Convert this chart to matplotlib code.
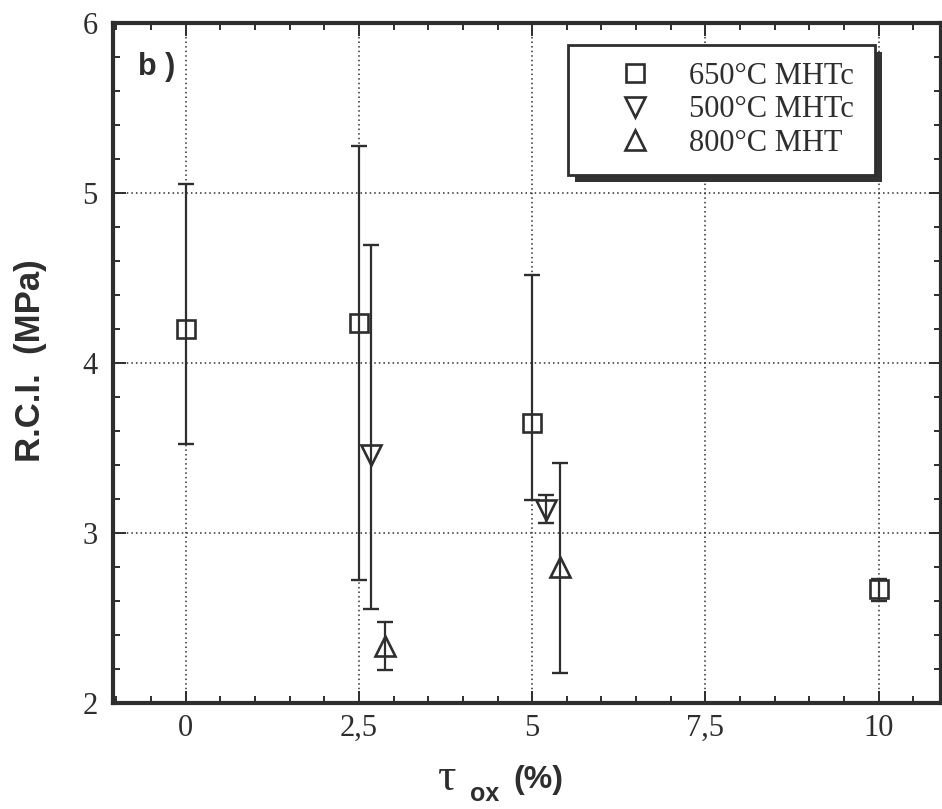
import matplotlib
matplotlib.use("Agg")
import matplotlib.pyplot as plt
from matplotlib.patches import Rectangle
from matplotlib.transforms import IdentityTransform
from matplotlib.ticker import MultipleLocator, FixedLocator, FixedFormatter

# ---- data ----
sq_x = [0, 2.5, 5, 10]
sq_y = [4.20, 4.236, 3.648, 2.67]
sq_lo = [3.52, 2.722, 3.195, 2.60]
sq_hi = [5.05, 5.275, 4.515, 2.73]

tdn_x = [2.675, 5.20]
tdn_y = [3.46, 3.136]
tdn_lo = [2.552, 3.055]
tdn_hi = [4.69, 3.22]

tup_x = [2.877, 5.40]
tup_y = [2.333, 2.80]
tup_lo = [2.192, 2.173]
tup_hi = [2.476, 3.408]

labels = ["650°C MHTc", "500°C MHTc", "800°C MHT"]
xtick_vals = [0, 2.5, 5, 7.5, 10]
xtick_labels = ["0", "2,5", "5", "7,5", "10"]
ytick_vals = [2, 3, 4, 5, 6]

C = "#2e2e2e"
SERIF = ["Liberation Serif", "DejaVu Serif"]
SANS = ["Liberation Sans", "DejaVu Sans"]

W, H = 942, 809
fig = plt.figure(figsize=(W / 100, H / 100), dpi=100)
ax_l, ax_r, ax_t, ax_b = 113, 941, 22.7, 702.7
ax = fig.add_axes([ax_l / W, 1 - ax_b / H, (ax_r - ax_l) / W, (ax_b - ax_t) / H])

def errs(y, lo, hi):
    return [[v - l for v, l in zip(y, lo)], [h - v for v, h in zip(y, hi)]]

ekw = dict(fmt="none", ecolor=C, elinewidth=1.6, capsize=5.5, capthick=1.7, zorder=3)
ax.errorbar(sq_x, sq_y, yerr=errs(sq_y, sq_lo, sq_hi), **ekw)
ax.errorbar(tdn_x, tdn_y, yerr=errs(tdn_y, tdn_lo, tdn_hi), **ekw)
ax.errorbar(tup_x, tup_y, yerr=errs(tup_y, tup_lo, tup_hi), **ekw)

mkw = dict(linestyle="none", markerfacecolor="none", markeredgecolor=C,
           markeredgewidth=1.9, zorder=4)
ax.plot(sq_x, sq_y, marker="s", markersize=13, label=labels[0], **mkw)
ax.plot(tdn_x, tdn_y, marker="v", markersize=14, label=labels[1], **mkw)
ax.plot(tup_x, tup_y, marker="^", markersize=14, label=labels[2], **mkw)

ax.set_xlim(-1.05, 10.9)
ax.set_ylim(2, 6)
ax.xaxis.set_major_locator(FixedLocator(xtick_vals))
ax.xaxis.set_major_formatter(FixedFormatter(xtick_labels))
ax.xaxis.set_minor_locator(MultipleLocator(0.5))
ax.yaxis.set_major_locator(FixedLocator(ytick_vals))
ax.yaxis.set_minor_locator(MultipleLocator(0.2))

ax.tick_params(which="both", direction="in", top=True, right=True, color=C, width=1.4)
ax.tick_params(which="major", length=9)
ax.tick_params(which="minor", length=5)
ax.tick_params(axis="x", which="major", pad=8, labelsize=22, labelcolor=C)
ax.tick_params(axis="y", which="major", pad=11, labelsize=22, labelcolor=C)
for lab in ax.get_xticklabels() + ax.get_yticklabels():
    lab.set_fontfamily(SERIF)

for s in ax.spines.values():
    s.set_linewidth(3)
    s.set_color(C)

ax.grid(True, which="major", color=C, linestyle=(0, (1, 2)), linewidth=1.1)
ax.set_axisbelow(True)

# legend
leg = ax.legend(loc="upper left", bbox_to_anchor=(0.5495, 0.9672, 0.3708, 0), mode="expand",
                borderaxespad=0, prop={"family": SERIF, "size": 22}, labelcolor=C,
                frameon=True, fancybox=False, edgecolor=C, framealpha=1,
                handlelength=3.3, handletextpad=0.1, labelspacing=0.15, borderpad=0.55,
                numpoints=1)
leg.get_frame().set_linewidth(2)
leg.set_zorder(6)

fig.canvas.draw()
bb = leg.get_window_extent()
ax.add_artist(Rectangle((bb.x0 + 7, bb.y0 - 7), bb.width, bb.height, transform=IdentityTransform(),
                        facecolor="#333333", edgecolor="none", zorder=5.5, clip_on=False))

# panel label
ax.text((138 - ax_l) / (ax_r - ax_l), (ax_b - 75) / (ax_b - ax_t), "b )", transform=ax.transAxes,
        fontsize=22, fontweight="bold", family=SANS, color=C, ha="left", va="baseline")

# axis labels
fig.text(31 / W, 1 - 361 / H, "R.C.I.  (MPa)", rotation=90, ha="center", va="center",
         fontsize=25, fontweight="bold", family=SANS, color=C)
fig.text(438 / W, 1 - 790 / H, "τ", fontsize=33, family=SERIF, color=C, ha="left", va="baseline")
fig.text(470 / W, 1 - 801 / H, "ox", fontsize=18, fontweight="bold", family=SANS, color=C,
         ha="left", va="baseline")
fig.text(513 / W, 1 - 788 / H, "(%)", fontsize=23, fontweight="bold", family=SANS, color=C,
         ha="left", va="baseline")

fig.savefig("out.png", dpi=100, facecolor="white")
